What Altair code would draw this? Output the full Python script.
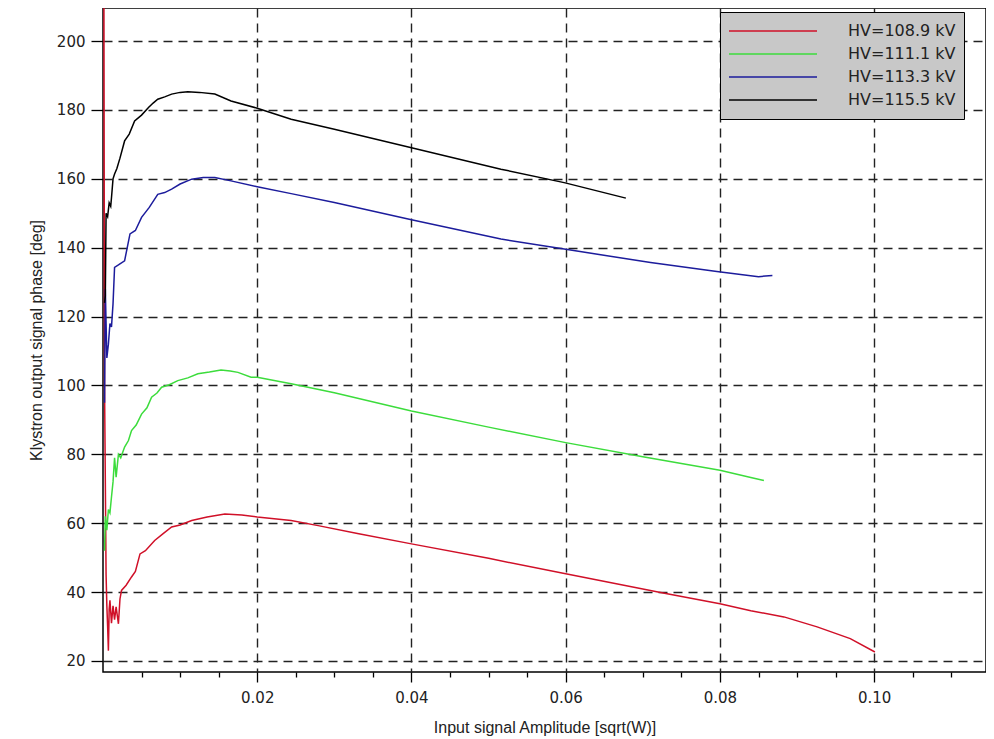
import altair as alt
import pandas as pd

series_names = ["HV=108.9 kV", "HV=111.1 kV", "HV=113.3 kV", "HV=115.5 kV"]
series_colors = ["#d01028", "#3cdc3c", "#1c1c9c", "#000000"]

red_x = [0.0001, 0.0002, 0.0004, 0.0005, 0.0006, 0.0007, 0.0008, 0.0009, 0.0011, 0.0013, 0.0015,
         0.0017, 0.0020, 0.0022, 0.0024, 0.0030, 0.0037, 0.0042, 0.0048, 0.0055, 0.0067, 0.0078,
         0.0089, 0.0100, 0.0115, 0.0135, 0.0158, 0.0180, 0.0200, 0.0244, 0.0279, 0.0330, 0.0400,
         0.0500, 0.0600, 0.0723, 0.0800, 0.0840, 0.0883, 0.0926, 0.0969, 0.1001]
red_y = [240, 100, 45, 36, 30, 23, 35, 37.6, 31, 36, 32,
         35.7, 30.8, 38, 40.5, 42, 44.4, 46, 51.1, 52, 55, 57,
         58.9, 59.5, 60.8, 61.8, 62.7, 62.4, 61.8, 60.8, 59.3, 57, 54,
         49.8, 45.3, 39.9, 36.6, 34.6, 32.8, 29.9, 26.5, 22.6]

green_x = [0.0002, 0.0003, 0.0005, 0.0007, 0.0009, 0.0011, 0.0013, 0.0015, 0.0017, 0.0020, 0.0023,
           0.0028, 0.0033, 0.0037, 0.0043, 0.0050, 0.0057, 0.0063, 0.0070, 0.0076, 0.0086, 0.0097,
           0.0110, 0.0123, 0.0138, 0.0153, 0.0165, 0.0175, 0.0192, 0.0200, 0.0244, 0.0300, 0.0400,
           0.0500, 0.0600, 0.0700, 0.0800, 0.0840, 0.0857]
green_y = [52, 62, 58, 64, 63, 67.6, 72, 79, 73.4, 80, 79,
           82.1, 84, 86.9, 88.5, 91.7, 93.5, 96.6, 97.8, 99.5, 100.2, 101.4,
           102.2, 103.4, 103.9, 104.5, 104.2, 103.8, 102.4, 102.4, 100.5, 97.9, 92.6,
           87.9, 83.4, 79.3, 75.4, 73.3, 72.4]

blue_x = [0.0002, 0.0003, 0.0005, 0.0007, 0.0009, 0.0011, 0.0013, 0.0015, 0.0020, 0.0028, 0.0035,
          0.0042, 0.0050, 0.0060, 0.0071, 0.0080, 0.0089, 0.0100, 0.0115, 0.0130, 0.0145, 0.0166,
          0.0200, 0.0244, 0.0300, 0.0400, 0.0516, 0.0598, 0.0710, 0.0796, 0.0850, 0.0868]
blue_y = [95, 128, 108, 112, 118, 117, 123.7, 134.3, 135, 136.2, 144,
          145, 148.8, 151.7, 155.5, 156, 157, 158.5, 159.9, 160.4, 160.4, 159.4,
          157.7, 155.7, 153.1, 148.1, 142.5, 139.6, 135.7, 133.1, 131.6, 131.9]

black_x = [0.0002, 0.0003, 0.0004, 0.0006, 0.0008, 0.0010, 0.0011, 0.0013, 0.0015, 0.0018, 0.0022,
           0.0028, 0.0034, 0.0041, 0.0050, 0.0059, 0.0065, 0.0071, 0.0080, 0.0089, 0.0100, 0.0110,
           0.0125, 0.0145, 0.0166, 0.0200, 0.0244, 0.0300, 0.0400, 0.0516, 0.0598, 0.0678]
black_y = [124, 126, 150, 149, 153, 152, 154.5, 160, 161.4, 163, 166,
           171, 173, 176.8, 178.5, 180.7, 182, 183.1, 183.8, 184.6, 185.1, 185.3,
           185.1, 184.6, 182.6, 180.5, 177.3, 174.4, 169, 162.8, 158.9, 154.4]

x_tick_values = [round(0.005 * i, 3) for i in range(1, 23)]
y_tick_values = [20, 40, 60, 80, 100, 120, 140, 160, 180, 200]

rows = []
for name, xs, ys in zip(series_names, [red_x, green_x, blue_x, black_x], [red_y, green_y, blue_y, black_y]):
    for i, (xv, yv) in enumerate(zip(xs, ys)):
        rows.append({"x": xv, "y": yv, "series": name, "idx": i})
df = pd.DataFrame(rows)

major = "abs(datum.value * 50 - round(datum.value * 50)) < 0.001"

chart = alt.Chart(df).mark_line(strokeWidth=1.5, clip=True).encode(
    x=alt.X(
        "x:Q",
        scale=alt.Scale(domain=[0, 0.1145], nice=False, zero=False),
        axis=alt.Axis(
            title="Input signal Amplitude [sqrt(W)]",
            values=x_tick_values,
            labelExpr=f"{major} ? format(datum.value, '.2f') : ''",
            tickSize={"condition": {"test": major, "value": 10}, "value": 5},
            gridOpacity={"condition": {"test": major, "value": 1}, "value": 0},
            labelPadding=8,
            titlePadding=14,
            labelFlush=False,
            labelOverlap=False,
        ),
    ),
    y=alt.Y(
        "y:Q",
        scale=alt.Scale(domain=[16.8, 209.6], nice=False, zero=False),
        axis=alt.Axis(
            title="Klystron output signal phase [deg]",
            values=y_tick_values,
            tickSize=12,
            labelPadding=6,
            titlePadding=12,
        ),
    ),
    color=alt.Color(
        "series:N",
        scale=alt.Scale(domain=series_names, range=series_colors),
        legend=alt.Legend(
            title=None,
            orient="none",
            legendX=617,
            legendY=4,
            fillColor="#c8c8c8",
            strokeColor="#000000",
            padding=8,
            symbolType="stroke",
            symbolSize=7744,
            symbolStrokeWidth=1.5,
            labelFont="DejaVu Sans",
            labelFontSize=16,
            labelColor="#222222",
            labelOffset=30,
            clipHeight=22,
            rowPadding=1,
            labelLimit=300,
        ),
    ),
    order="idx:Q",
).properties(
    width=883,
    height=664,
    autosize=alt.AutoSizeParams(type="none"),
    padding={"left": 95, "top": 0, "right": 0, "bottom": 64},
    background="white",
).configure_view(
    stroke="#000000",
    strokeWidth=1.5,
).configure_axis(
    domain=False,
    grid=True,
    gridColor="#222222",
    gridDash=[9, 6],
    gridWidth=1.4,
    tickColor="#000000",
    tickWidth=1.3,
    labelFont="DejaVu Sans",
    labelFontSize=15,
    labelColor="#222222",
    titleFont="Liberation Sans",
    titleFontSize=16,
    titleFontWeight="normal",
    titleColor="#222222",
)

chart.save("out.html", embed_options={"renderer": "svg", "actions": False})
